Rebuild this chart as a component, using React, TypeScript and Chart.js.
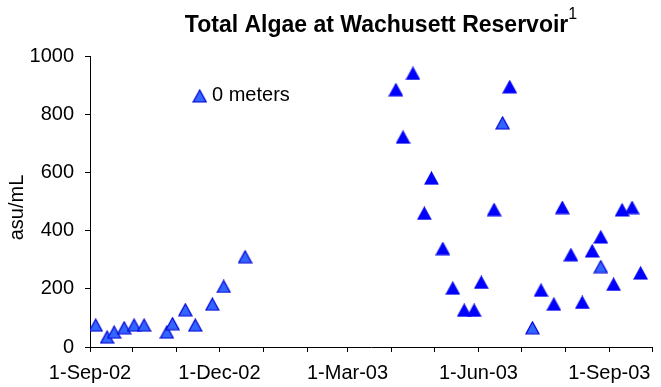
import React, { useEffect, useRef } from "react";
import { Chart, registerables } from "chart.js";

Chart.register(...registerables);

// ---- Data ----
const sampleDates: string[] = [
  "2002-09-05", "2002-09-13", "2002-09-18", "2002-09-25", "2002-10-02", "2002-10-09",
  "2002-10-25", "2002-10-29", "2002-11-07", "2002-11-14", "2002-11-26", "2002-12-04",
  "2002-12-19",
  "2003-04-04", "2003-04-09", "2003-04-16", "2003-04-24", "2003-04-29", "2003-05-07",
  "2003-05-14", "2003-05-22", "2003-05-29", "2003-06-03", "2003-06-12", "2003-06-18",
  "2003-06-23", "2003-07-09", "2003-07-15", "2003-07-24", "2003-07-30", "2003-08-05",
  "2003-08-13", "2003-08-20", "2003-08-26", "2003-08-26", "2003-09-04", "2003-09-10",
  "2003-09-17", "2003-09-23",
];
const algae0m: number[] = [
  75, 34, 51, 66, 75, 75,
  51, 80, 128, 75, 147, 208,
  310,
  884, 721, 940, 459, 580, 338,
  202, 126, 126, 222, 472, 770,
  894, 66, 195, 147, 479, 317,
  153, 330, 378, 276, 215, 471,
  479, 254,
];
// indices of points drawn with the lighter fill
const lightFillIndices: number[] = [0, 1, 2, 3, 4, 5, 6, 7, 8, 9, 10, 11, 12, 24, 26, 34];

const seriesLabel = "0 meters";
const chartTitle = "Total Algae at Wachusett Reservoir";
const titleSuperscript = "1";
const yAxisTitle = "asu/mL";

const axisStartDate = "2002-09-01";
const axisEndDate = "2003-10-01";
const monthTickDates: string[] = [
  "2002-09-01", "2002-10-01", "2002-11-01", "2002-12-01", "2003-01-01", "2003-02-01",
  "2003-03-01", "2003-04-01", "2003-05-01", "2003-06-01", "2003-07-01", "2003-08-01",
  "2003-09-01", "2003-10-01",
];
const labeledTickDates: string[] = ["2002-09-01", "2002-12-01", "2003-03-01", "2003-06-01", "2003-09-01"];
const labeledTickTexts: string[] = ["1-Sep-02", "1-Dec-02", "1-Mar-03", "1-Jun-03", "1-Sep-03"];
const yMin = 0;
const yMax = 1000;
const yStep = 200;

// ---- helpers ----
const FONT = "'Liberation Sans', Arial, sans-serif";
function dayOffset(s: string): number {
  const [y, m, d] = s.split("-").map(Number);
  const [y0, m0, d0] = axisStartDate.split("-").map(Number);
  return Math.round((Date.UTC(y, m - 1, d) - Date.UTC(y0, m0 - 1, d0)) / 86400000);
}

function makeTriangle(fill: string, stroke: string): HTMLCanvasElement {
  const c = document.createElement("canvas");
  c.width = 15;
  c.height = 14;
  const g = c.getContext("2d")!;
  g.beginPath();
  g.moveTo(7.5, 1);
  g.lineTo(14, 13);
  g.lineTo(1, 13);
  g.closePath();
  g.fillStyle = fill;
  g.fill();
  g.lineWidth = 1.2;
  g.strokeStyle = stroke;
  g.lineJoin = "miter";
  g.stroke();
  return c;
}

export default function App() {
  const ref = useRef<HTMLCanvasElement | null>(null);

  useEffect(() => {
    if (!ref.current) return;
    const solid = makeTriangle("#0000FF", "#0000F0");
    const light = makeTriangle("#3366FF", "#0000D8");

    const points = sampleDates.map((d, i) => ({ x: dayOffset(d), y: algae0m[i] }));
    const labeledValues = labeledTickDates.map(dayOffset);

    const overlayPlugin = {
      id: "overlay",
      afterDraw(chart: any) {
        const ctx = chart.ctx as CanvasRenderingContext2D;
        ctx.save();
        // Title with superscript
        ctx.fillStyle = "#000";
        ctx.textBaseline = "alphabetic";
        ctx.textAlign = "left";
        ctx.font = `bold 23px ${FONT}`;
        const w1 = ctx.measureText(chartTitle).width;
        ctx.font = `16px ${FONT}`;
        const w2 = ctx.measureText(titleSuperscript).width;
        const total = w1 + w2;
        const start = 381 - total / 2;
        ctx.font = `bold 23px ${FONT}`;
        ctx.fillText(chartTitle, start, 31.5);
        ctx.font = `16px ${FONT}`;
        ctx.fillText(titleSuperscript, start + w1, 19);
        // Y axis title
        const area = chart.chartArea;
        ctx.save();
        ctx.translate(17, (area.top + area.bottom) / 2 + 6);
        ctx.rotate(-Math.PI / 2);
        ctx.font = `20px ${FONT}`;
        ctx.textAlign = "center";
        ctx.textBaseline = "middle";
        ctx.fillText(yAxisTitle, 0, 0);
        ctx.restore();
        // Legend
        const label = chart.data.datasets[0].label;
        ctx.drawImage(light, 199.7 - light.width / 2, 96 - light.height / 2);
        ctx.font = `20px ${FONT}`;
        ctx.textAlign = "left";
        ctx.textBaseline = "middle";
        ctx.fillText(label, 212, 95.5);
        ctx.restore();
      },
    };

    const chart = new Chart(ref.current, {
      type: "scatter",
      data: {
        datasets: [
          {
            label: seriesLabel,
            data: points,
            showLine: false,
            pointStyle: (c: any) => (lightFillIndices.includes(c.dataIndex) ? light : solid),
            pointRadius: 7,
          } as any,
        ],
      },
      options: {
        responsive: false,
        animation: false,
        devicePixelRatio: 1,
        layout: { padding: { left: 0, right: 4, top: 56, bottom: 0 } },
        plugins: {
          legend: { display: false },
          title: { display: false },
          tooltip: { enabled: false },
        },
        scales: {
          x: {
            type: "linear",
            position: "bottom",
            min: dayOffset(axisStartDate),
            max: dayOffset(axisEndDate),
            afterBuildTicks: (scale: any) => {
              scale.ticks = monthTickDates.map((d) => ({ value: dayOffset(d) }));
            },
            afterFit: (scale: any) => {
              scale.height = 40;
            },
            grid: { drawOnChartArea: false, tickLength: 5, color: "#000", lineWidth: 1 },
            border: { color: "#000", width: 1 },
            ticks: {
              autoSkip: false,
              maxRotation: 0,
              minRotation: 0,
              padding: 9,
              color: "#000",
              font: { family: FONT, size: 20 },
              callback: (v: any) => {
                const i = labeledValues.indexOf(Number(v));
                return i >= 0 ? labeledTickTexts[i] : "";
              },
            },
          },
          y: {
            min: yMin,
            max: yMax,
            afterFit: (scale: any) => {
              scale.width = 90;
            },
            grid: { drawOnChartArea: false, tickLength: 5, color: "#000", lineWidth: 1 },
            border: { color: "#000", width: 1 },
            title: { display: false },
            ticks: {
              stepSize: yStep,
              padding: 11,
              color: "#000",
              font: { family: FONT, size: 20 },
              callback: (v: any) => String(v),
            },
          },
        },
      } as any,
      plugins: [overlayPlugin],
    });
    return () => chart.destroy();
  }, []);

  return (
    <div style={{ position: "fixed", left: 0, top: 0, width: 661, height: 387, background: "#fff" }}>
      <canvas ref={ref} width={661} height={387} style={{ display: "block" }} />
    </div>
  );
}
